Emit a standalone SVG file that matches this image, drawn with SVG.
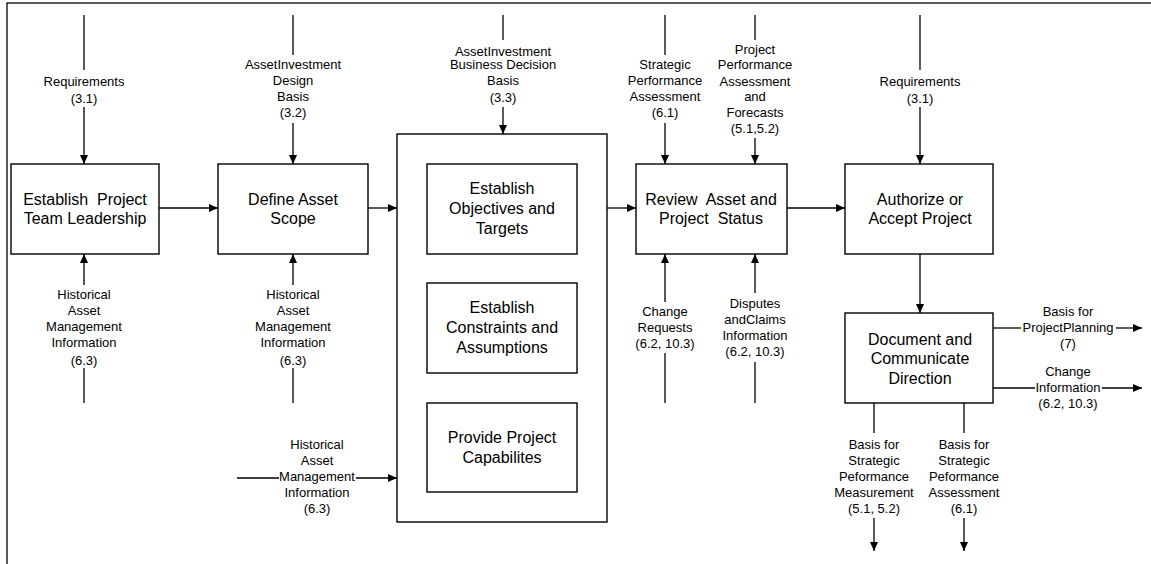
<svg xmlns="http://www.w3.org/2000/svg" width="1151" height="564" viewBox="0 0 1151 564">
<style>
.box{fill:#fff;stroke:#000;stroke-width:1.4}
.ln{fill:none;stroke:#000;stroke-width:1.3}
.t{font-family:"Liberation Sans",Arial,sans-serif;font-size:16px;text-anchor:middle;fill:#000}
.l{font-family:"Liberation Sans",Arial,sans-serif;font-size:13px;text-anchor:middle;fill:#000}
</style>
<defs>
<marker id="ah" markerWidth="9" markerHeight="8" refX="9" refY="4" orient="auto" markerUnits="userSpaceOnUse">
<path d="M0,0 L9,4 L0,8 Z" fill="#000"/>
</marker>
</defs>
<rect x="7" y="3" width="1160" height="580" fill="#fff" stroke="#000" stroke-width="1.3"/>

<g id="n1"><rect class="box" x="11" y="164" width="148" height="90"/>
<text class="t" x="85" y="205" xml:space="preserve">Establish  Project</text><text class="t" x="85" y="224">Team Leadership</text></g>
<g id="n2"><rect class="box" x="218" y="164" width="150" height="90"/>
<text class="t" x="293" y="205">Define Asset</text><text class="t" x="293" y="224">Scope</text></g>
<g id="n3"><rect class="box" x="397" y="134" width="210" height="388"/></g>
<g id="n3a"><rect class="box" x="427" y="164" width="150" height="90"/>
<text class="t" x="502" y="194">Establish</text><text class="t" x="502" y="214">Objectives and</text><text class="t" x="502" y="234">Targets</text></g>
<g id="n3b"><rect class="box" x="427" y="283" width="150" height="90"/>
<text class="t" x="502" y="313">Establish</text><text class="t" x="502" y="333">Constraints and</text><text class="t" x="502" y="353">Assumptions</text></g>
<g id="n3c"><rect class="box" x="427" y="403" width="150" height="89"/>
<text class="t" x="502" y="443">Provide Project</text><text class="t" x="502" y="463">Capabilites</text></g>
<g id="n4"><rect class="box" x="636" y="164" width="151" height="90"/>
<text class="t" x="711" y="205" xml:space="preserve">Review  Asset and</text><text class="t" x="711" y="224" xml:space="preserve">Project  Status</text></g>
<g id="n5"><rect class="box" x="845" y="164" width="148" height="90"/>
<text class="t" x="920" y="205">Authorize or</text><text class="t" x="920" y="224">Accept Project</text></g>
<g id="n6"><rect class="box" x="845" y="313" width="148" height="90"/>
<text class="t" x="920" y="345">Document and</text><text class="t" x="920" y="364">Communicate</text><text class="t" x="920" y="384">Direction</text></g>

<g id="connectors">
<line class="ln" x1="159" y1="208" x2="218" y2="208" marker-end="url(#ah)"/>
<line class="ln" x1="368" y1="208" x2="397" y2="208" marker-end="url(#ah)"/>
<line class="ln" x1="607" y1="208" x2="636" y2="208" marker-end="url(#ah)"/>
<line class="ln" x1="787" y1="208" x2="845" y2="208" marker-end="url(#ah)"/>
<line class="ln" x1="920" y1="254" x2="920" y2="313" marker-end="url(#ah)"/>
<line class="ln" x1="84" y1="15" x2="84" y2="70"/><line class="ln" x1="84" y1="107" x2="84" y2="164" marker-end="url(#ah)"/>
<line class="ln" x1="293" y1="15" x2="293" y2="55"/><line class="ln" x1="293" y1="123" x2="293" y2="164" marker-end="url(#ah)"/>
<line class="ln" x1="503" y1="15" x2="503" y2="40"/><line class="ln" x1="503" y1="107" x2="503" y2="134" marker-end="url(#ah)"/>
<line class="ln" x1="665" y1="15" x2="665" y2="55"/><line class="ln" x1="665" y1="123" x2="665" y2="164" marker-end="url(#ah)"/>
<line class="ln" x1="755" y1="15" x2="755" y2="40"/><line class="ln" x1="755" y1="138" x2="755" y2="164" marker-end="url(#ah)"/>
<line class="ln" x1="920" y1="15" x2="920" y2="70"/><line class="ln" x1="920" y1="107" x2="920" y2="164" marker-end="url(#ah)"/>
<line class="ln" x1="84" y1="403" x2="84" y2="368"/><line class="ln" x1="84" y1="285" x2="84" y2="254" marker-end="url(#ah)"/>
<line class="ln" x1="293" y1="403" x2="293" y2="368"/><line class="ln" x1="293" y1="285" x2="293" y2="254" marker-end="url(#ah)"/>
<line class="ln" x1="665" y1="403" x2="665" y2="353"/><line class="ln" x1="665" y1="302" x2="665" y2="254" marker-end="url(#ah)"/>
<line class="ln" x1="755" y1="403" x2="755" y2="362"/><line class="ln" x1="755" y1="293" x2="755" y2="254" marker-end="url(#ah)"/>
<line class="ln" x1="237" y1="478" x2="279" y2="478"/><line class="ln" x1="356" y1="478" x2="397" y2="478" marker-end="url(#ah)"/>
<line class="ln" x1="993" y1="328" x2="1021" y2="328"/><line class="ln" x1="1116" y1="328" x2="1142" y2="328" marker-end="url(#ah)"/>
<line class="ln" x1="993" y1="388" x2="1035" y2="388"/><line class="ln" x1="1102" y1="388" x2="1142" y2="388" marker-end="url(#ah)"/>
<line class="ln" x1="874" y1="403" x2="874" y2="433"/><line class="ln" x1="874" y1="518" x2="874" y2="551" marker-end="url(#ah)"/>
<line class="ln" x1="964" y1="403" x2="964" y2="433"/><line class="ln" x1="964" y1="518" x2="964" y2="551" marker-end="url(#ah)"/>
</g>

<g id="labels">
<text class="l" x="84" y="86">Requirements</text><text class="l" x="84" y="103">(3.1)</text>
<text class="l" x="293" y="69">AssetInvestment</text><text class="l" x="293" y="85">Design</text><text class="l" x="293" y="101">Basis</text><text class="l" x="293" y="117">(3.2)</text>
<text class="l" x="503" y="56">AssetInvestment</text><text class="l" x="503" y="69">Business Decision</text><text class="l" x="503" y="85">Basis</text><text class="l" x="503" y="102">(3.3)</text>
<text class="l" x="665" y="69">Strategic</text><text class="l" x="665" y="85">Performance</text><text class="l" x="665" y="101">Assessment</text><text class="l" x="665" y="117">(6.1)</text>
<text class="l" x="755" y="54">Project</text><text class="l" x="755" y="69">Performance</text><text class="l" x="755" y="86">Assessment</text><text class="l" x="755" y="101">and</text><text class="l" x="755" y="117">Forecasts</text><text class="l" x="755" y="133">(5.1,5.2)</text>
<text class="l" x="920" y="86">Requirements</text><text class="l" x="920" y="103">(3.1)</text>
<text class="l" x="84" y="299">Historical</text><text class="l" x="84" y="315">Asset</text><text class="l" x="84" y="331">Management</text><text class="l" x="84" y="347">Information</text><text class="l" x="84" y="365">(6.3)</text>
<text class="l" x="293" y="299">Historical</text><text class="l" x="293" y="315">Asset</text><text class="l" x="293" y="331">Management</text><text class="l" x="293" y="347">Information</text><text class="l" x="293" y="365">(6.3)</text>
<text class="l" x="317" y="449">Historical</text><text class="l" x="317" y="465">Asset</text><text class="l" x="317" y="481">Management</text><text class="l" x="317" y="497">Information</text><text class="l" x="317" y="513">(6.3)</text>
<text class="l" x="665" y="316">Change</text><text class="l" x="665" y="332">Requests</text><text class="l" x="665" y="348">(6.2, 10.3)</text>
<text class="l" x="755" y="308">Disputes</text><text class="l" x="755" y="324">andClaims</text><text class="l" x="755" y="340">Information</text><text class="l" x="755" y="356">(6.2, 10.3)</text>
<text class="l" x="1068" y="316">Basis for</text><text class="l" x="1068" y="332">ProjectPlanning</text><text class="l" x="1068" y="348">(7)</text>
<text class="l" x="1068" y="376">Change</text><text class="l" x="1068" y="392">Information</text><text class="l" x="1068" y="408">(6.2, 10.3)</text>
<text class="l" x="874" y="449">Basis for</text><text class="l" x="874" y="465">Strategic</text><text class="l" x="874" y="481">Peformance</text><text class="l" x="874" y="497">Measurement</text><text class="l" x="874" y="513">(5.1, 5.2)</text>
<text class="l" x="964" y="449">Basis for</text><text class="l" x="964" y="465">Strategic</text><text class="l" x="964" y="481">Peformance</text><text class="l" x="964" y="497">Assessment</text><text class="l" x="964" y="513">(6.1)</text>
</g>
</svg>
